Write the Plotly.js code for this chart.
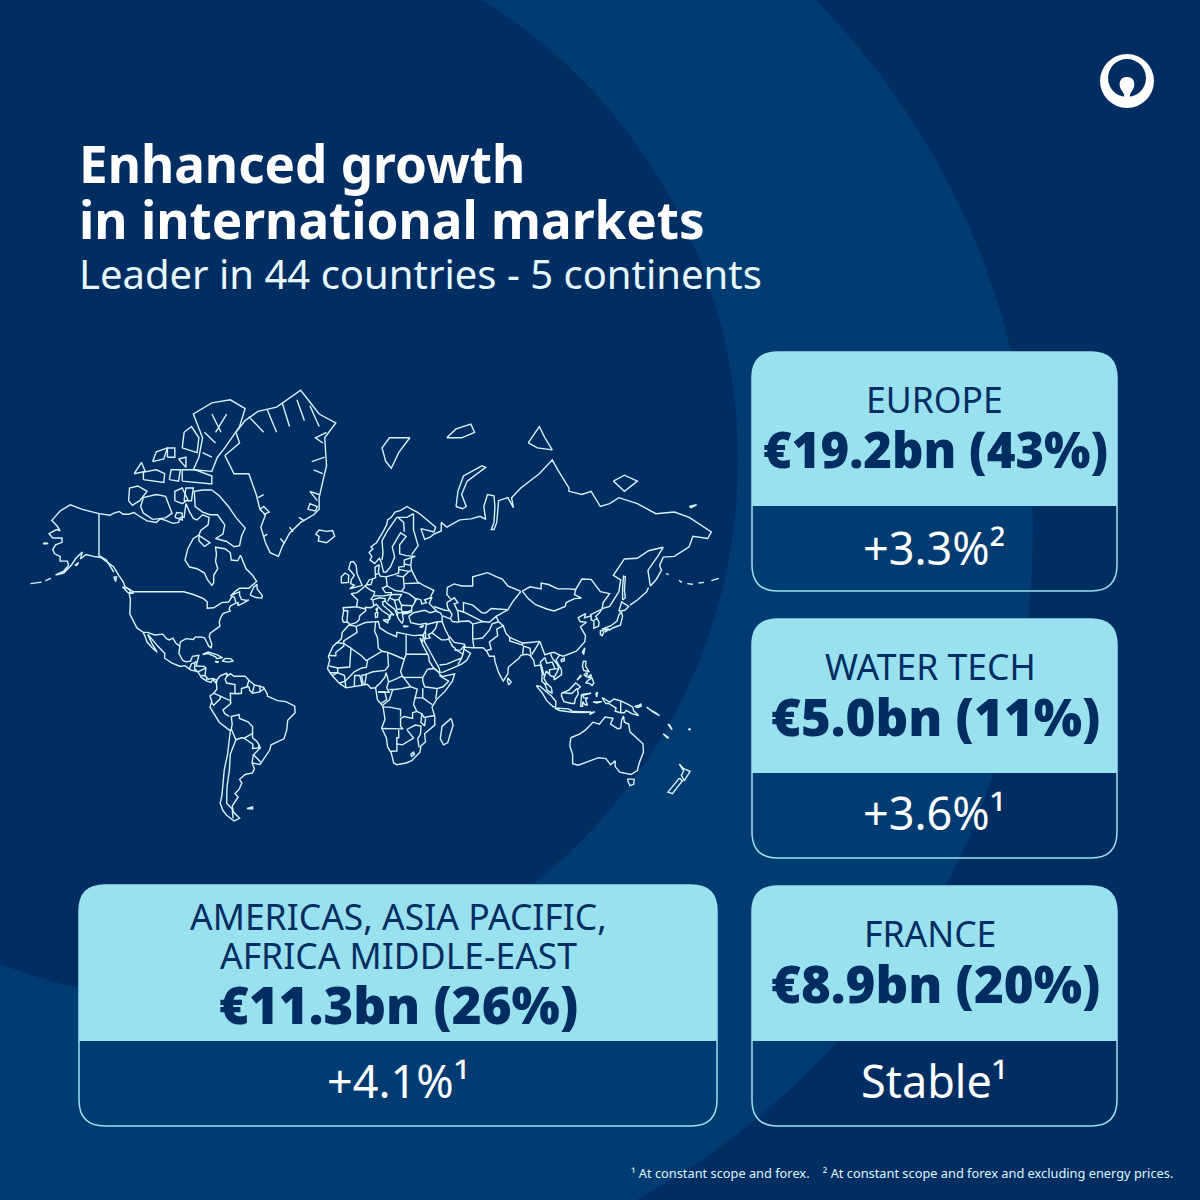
<!DOCTYPE html>
<html>
<head>
<meta charset="utf-8">
<script src="https://cdn.plot.ly/plotly-3.0.0.min.js"></script>
<style>html,body{margin:0;padding:0;background:#002d62}</style>
</head>
<body>
<div id="chart" style="width:1200px;height:1200px"></div>
<script>
var headline = ["Enhanced growth", "in international markets"];
var subhead = "Leader in 44 countries - 5 continents";
var regions = [["EUROPE"], ["WATER TECH"], ["FRANCE"], ["AMERICAS, ASIA PACIFIC,", "AFRICA MIDDLE-EAST"]];
var amounts = ["€19.2bn (43%)", "€5.0bn (11%)", "€8.9bn (20%)", "€11.3bn (26%)"];
var growth = ["+3.3%²", "+3.6%¹", "Stable¹", "+4.1%¹"];
var footnote = "¹ At constant scope and forex.\u00a0\u00a0\u00a0 ² At constant scope and forex and excluding energy prices.";

/* World outlines, longitude / latitude pairs */
var coastNorthAmerica = [[-164.5,54.6],[-160,55.8],[-157.5,57.5],[-158,58.7],[-162,58.7],[-162,60],[-165,60.7],[-166,61.8],[-164.5,63],[-161,63.6],[-161,64.6],[-166,64.6],[-168,65.6],[-164,66.5],[-162,66.2],[-163.5,67.2],[-166.5,68.4],[-162,70.2],[-156.5,71.3],[-150,70.5],[-141,69.7],[-135,69.4],[-133,69.8],[-130,70.1],[-128,69.6],[-125,69.6],[-122,69.9],[-120,69.4],[-115,68.3],[-110,68],[-108,68.7],[-105,68.4],[-101,67.8],[-98,68],[-97,69],[-95,69],[-94,71.5],[-92,70],[-90,68.8],[-88,68.5],[-85,69.5],[-81.5,69],[-82,67.5],[-86,66.3],[-87,65.3],[-90,64.5],[-93,62],[-94.5,59],[-92,57],[-88,56.5],[-84,55.2],[-82.3,53],[-80,51.2],[-79,52],[-79,54.5],[-76.8,56.5],[-78,58.7],[-77.5,60.5],[-78,62.4],[-73,62],[-70,61],[-69.5,59],[-66,58.8],[-64.5,60.3],[-61.5,56.5],[-58,54.5],[-55.8,52.5],[-58,51.3],[-60,50.2],[-65,50.2],[-67,49.3],[-70,47.5],[-65,49],[-65,47.8],[-64,46.2],[-61,45.8],[-60,46],[-63.5,44.6],[-66,43.8],[-65.8,45],[-67,44.8],[-70,43.7],[-70.7,42.3],[-70,41.7],[-74,40.6],[-75.5,38.5],[-76,37],[-75.6,35.3],[-77.8,34],[-81,32],[-81.4,30.5],[-80,26.8],[-80.4,25.2],[-81.7,26],[-82.8,28],[-84,30],[-86,30.4],[-89,30.3],[-90,29.2],[-94,29.6],[-97,28],[-97.3,25.5],[-97.8,22.5],[-95.8,19],[-94,18.2],[-91.5,18.5],[-90.5,21],[-87,21.5],[-87.7,18.5],[-88.5,16],[-84,15.8],[-83.2,15],[-83.7,11],[-82,9],[-79.5,9.5],[-77.3,8.6],[-77.9,7.2],[-79.5,8.9],[-80.4,7.3],[-83,8.2],[-85.7,10],[-87.5,13],[-91.5,14],[-94.5,16.2],[-97,15.8],[-101.5,17.5],[-105.5,20],[-105.5,22.5],[-109,25.8],[-112.7,29.5],[-114.7,31.7],[-112.5,27.5],[-110,24],[-109.5,23],[-112,25],[-115,28],[-116.5,31.5],[-117.2,32.6],[-120.5,34.5],[-122.5,37.5],[-124.3,40.4],[-124,46.3],[-124.7,48.4],[-122.5,48.5],[-123,49.3],[-127,50.8],[-128,52.5],[-130.3,54.5],[-133,57],[-136,58.2],[-140,59.7],[-144,60],[-148,60.5],[-151,59.3],[-150,61.2],[-153.5,59.5],[-156,57.5],[-160,55.2],[-164.5,54.6]];
var coastSouthAmerica = [[-77.3,8.6],[-75.5,10.8],[-72,12.2],[-71.5,10.8],[-70,12],[-68,10.6],[-62,10.7],[-60,8.5],[-57,6],[-52,4.7],[-50,1],[-50,0],[-44.5,-2.5],[-40,-3],[-35.2,-5.5],[-35,-9],[-39,-13],[-39.5,-18],[-41,-22.5],[-48,-25.5],[-48.7,-28],[-52,-32.5],[-54,-34.7],[-58.3,-34],[-57,-36.5],[-58,-38.3],[-62,-39],[-65,-41],[-63.8,-42.5],[-65.3,-45],[-67.5,-46.5],[-65.8,-47.8],[-69,-51],[-68.3,-53],[-65,-55],[-68,-55.8],[-72,-54],[-74,-52.5],[-75.5,-50],[-74.5,-47],[-74,-43],[-73.3,-37],[-71.5,-30],[-70,-18.5],[-76,-14],[-81,-6],[-80,-3],[-81,0],[-79,1.5],[-77.3,3.7],[-77.5,7],[-77.3,8.6]];
var coastEurasia = [[-9,37],[-9.5,38.7],[-8.8,41.5],[-9,43],[-1.8,43.4],[-1.2,46],[-4.7,48.3],[-1.5,48.7],[1.5,50.2],[3.5,51.4],[5,53],[8.5,53.7],[8.3,55.5],[8.2,57],[10.5,57.7],[10,55.5],[11,54.2],[14,54],[18.5,54.7],[21,55.2],[21,57],[24,57.2],[24,59],[28,59.6],[30,60],[25,60.2],[21.5,60.7],[21.5,63],[25,65],[22,65.8],[17.5,62.5],[18.8,59.8],[16.5,57],[14.3,55.5],[12.8,55.5],[11.5,58.5],[10.5,59.5],[8,58],[5.5,59],[6.5,60],[5,61],[7,62],[6,62.5],[9,63.5],[11,64.8],[12.5,66],[14.5,67.5],[15,68.5],[17,69],[19,70],[22,70.3],[25.5,71],[28,70.5],[31,70],[33,69.5],[41,67],[40,66],[35,66.5],[33,66.7],[35,64.3],[38,64.8],[40,65.5],[44,66.2],[44,68],[47,67],[54,68.5],[60,68.7],[65,69.2],[68,68.6],[67,71],[69,73],[72.5,72.8],[73,71],[72.5,68],[71,66.5],[72.5,66.5],[74,68],[75,72],[80,72.5],[83,70.8],[82,72.5],[87,74],[97,76],[104,77.7],[107,76.5],[113,74],[113,73.5],[120,73],[125,73.5],[130,71],[135,71.5],[140,72.5],[150,71.5],[160,69.7],[170,70],[178,69],[190,66],[188,64.5],[180,65],[178,62.5],[170,60],[164,59.8],[162,57.5],[163,56],[160,53],[157,51],[155.7,56],[161,60],[164,62.4],[156,61.5],[150,59.5],[143,59.3],[137,54.5],[141,53],[140,49],[135,43.5],[131,42.7],[129.5,41],[127.5,39.5],[129.3,37],[129,35.2],[126.5,34.4],[126.5,37.5],[125,38],[125,39.7],[121.5,38.9],[122,40.6],[118,39],[119,37.3],[122.5,37],[119.2,35],[122,31],[121.5,28],[117,23.5],[113.5,22.2],[110,21],[108,21.6],[106,19],[109,14],[109,11.5],[105,8.7],[105,10.2],[103,11],[100.8,13.4],[100,11],[99.5,9.5],[101,6.8],[103.5,4.5],[104,1.4],[101.3,3],[100,6.5],[98.3,8],[98.6,12],[97.6,16.5],[94.5,16],[94,19],[92,21.5],[90,22],[87,21.5],[86,20],[80.3,15.5],[80,12],[77.5,8],[75,12.5],[73,18.5],[72.7,21],[70,21],[68.5,23.7],[66.5,25.3],[61,25.2],[57,25.5],[56.5,27],[51,27.8],[48.7,30.3],[48,29.5],[50,26],[51.5,25],[51.5,24],[54.5,24.2],[56.4,26.2],[56.5,24.5],[59.8,22.5],[57.8,19],[55,17],[52,15.7],[45,12.8],[43.3,12.7],[42.8,15],[39,21.5],[37,25],[35,28],[34.8,29.5],[34.3,31.3],[35.5,33.5],[36,36.5],[32,36],[30,36.3],[27.5,36.8],[26.5,39.5],[29,41],[35,42],[38,41],[41.5,41.7],[37.5,44.7],[39,47],[35,46],[36,45],[33.5,44.5],[33,46],[30.8,46.5],[28,43],[28,41.5],[26,40.8],[23,40.5],[23.5,38],[22.8,36.5],[21,38.3],[19.5,41],[18.8,42.4],[15,44.5],[13.7,45.6],[12.3,45.3],[12.5,44],[16,41.8],[18.5,40],[16.8,40.3],[16,38],[15.8,40],[12.3,41.7],[10.5,43],[8.8,44.4],[6,43],[3,43.2],[3.2,41.8],[0,39.8],[-0.5,38],[-2,36.8],[-5.5,36],[-6.5,37],[-9,37]];
var coastAfrica = [[-5.5,35.8],[-2,35.2],[3,36.9],[10,37.3],[10.8,34.5],[15,32.3],[19.8,30.5],[20,32.5],[25,31.7],[29,31],[32,31.2],[34.3,31.3],[34,28],[32.5,29.9],[34,26.5],[36,23],[37.2,21],[37.5,18.5],[39.5,15.5],[43,12.3],[43.3,11.5],[44.7,10.5],[51.2,11.9],[50,8],[46,2.5],[41.5,-1.8],[39,-6],[40.5,-11],[40.5,-15.5],[35,-20],[35.5,-24],[33,-26],[32.5,-29],[28,-33],[25,-34],[20,-34.8],[18.3,-34],[17,-29.5],[15,-26.5],[14.3,-22],[11.8,-17],[13.6,-12.5],[12.5,-5.5],[9.5,-2],[9,3.5],[8.5,4.5],[6,4.2],[4,6.3],[1,5.8],[-4,5.2],[-7.5,4.4],[-11,6.8],[-13.3,9],[-15,11],[-17.5,14.7],[-16.3,19],[-17,21],[-14.5,26],[-10,29.5],[-9.5,32.5],[-6,35.7],[-5.5,35.8]];
var coastAustralia = [[114,-22],[113.5,-26],[115,-30],[115,-34.3],[118,-35],[124,-33],[129,-31.6],[133,-32],[135.5,-34.8],[138,-33],[138,-35.6],[140.5,-38],[144,-38.5],[146.5,-39],[150,-37.3],[151,-34],[153.3,-29],[153,-25],[149.5,-22],[146,-19],[145.3,-15],[143,-14],[142.5,-10.8],[141.5,-13],[141,-17],[139.5,-17.5],[135.5,-15],[136.8,-12],[132.5,-11.3],[129.5,-15],[126,-14],[122,-18],[119,-20],[114,-22]];
var coastGreenland = [[-73,78.2],[-68,76],[-60,76],[-56,73],[-54,70.5],[-51,69.5],[-53.5,67],[-51,63.5],[-48.5,61],[-44,60],[-42,62.5],[-38,65.7],[-32,68],[-25,69.5],[-22,70.5],[-22,72.5],[-20,75],[-18,77],[-19,80],[-13,81.3],[-22,82],[-32,83.6],[-45,82.5],[-55,82.2],[-62,81.5],[-67,80.5],[-65,79.5],[-73,78.2]];
var fjordsGreenland = [
 [[-60,81.8],[-52,80.5]],[[-50,82.3],[-45,80.5]],[[-42,82.8],[-38,81]],[[-34,83],[-30,81.5]],[[-27,82.6],[-22,81]],
 [[-18,80.5],[-24,80],[-20,79.5]],[[-19,78],[-26,77.5]],[[-20,76],[-25,76.5]],
 [[-22,73],[-27,73.5],[-23,72]],[[-24,70.2],[-28,70.5],[-27,71.5],[-23,71],[-24,70.2]],
 [[-30,68.3],[-33,69]],[[-36,66],[-38,67]],[[-41,63.5],[-43,64.5]],
 [[-52,65],[-50,65.5]],[[-52,69.5],[-49,70],[-52,71],[-54,70.5]],[[-55,72.5],[-52,73]]
];
var islandsArctic = [
 [[-80,73.7],[-76,72.8],[-71,71],[-67,69],[-62,66.8],[-64,65],[-65,62.8],[-68,62.5],[-72,63.8],[-78,64.5],[-74,65.5],[-73,67.5],[-77,69.5],[-81,69.5],[-85,70],[-89,71],[-89.5,73.5],[-85,73.7],[-80,73.7]],
 [[-117,69.8],[-112,68.6],[-105,68.9],[-101.5,69.8],[-105,72.7],[-110,73],[-117,72.5],[-118.5,71],[-117,69.8]],
 [[-125,72],[-123,71.2],[-119,72],[-115,73.5],[-120,74.3],[-124.5,74],[-125,72]],
 [[-90,76.5],[-80,76.3],[-77,78],[-73,79],[-65,81],[-62,82.4],[-70,83],[-80,82.8],[-90,82],[-85,80],[-87,78],[-90,76.5]],
 [[-80,82],[-75,80.5]],[[-72,82],[-78,80.5]],[[-84,80.5],[-78,79.5]],[[-85,78.5],[-80,78]],
 [[-96,79],[-88,78.5],[-87,80],[-91,81],[-95,80.5],[-96,79]],
 [[-96,75],[-80,74.6],[-80,75.7],[-89,76.5],[-96,76.5],[-96,75]],
 [[-100,72],[-96,71.5],[-93,72.2],[-96,74],[-100,73.5],[-100,72]],
 [[-95,72],[-91,72],[-90,74],[-94,74],[-95,72]],
 [[-117,75.2],[-106,74.8],[-105.5,76],[-110,76.5],[-117,76.2],[-117,75.2]],
 [[-103,75.2],[-98,75],[-97,76.5],[-102,76.5],[-103,75.2]],
 [[-122,76],[-116,76.3],[-118,77.4],[-122,76]],
 [[-112,77.5],[-106,77.8],[-104,79],[-110,78.6],[-112,77.5]],
 [[-104,78],[-100,78],[-100,79],[-104,79],[-104,78]],
 [[-98,77.8],[-94,78],[-94,76.8],[-98,77.8]],
 [[-100,69],[-96,68.5],[-96,69.8],[-99,69.9],[-100,69]],
 [[-87,65.2],[-81,63.5],[-84,62.6],[-87,64],[-87,65.2]],
 [[-59.3,47.8],[-56,46.9],[-53,46.7],[-52.7,47.6],[-55.5,50],[-55.6,51.6],[-57.5,50.5],[-59.3,47.8]],
 [[-128.3,50.7],[-125,50],[-123.4,48.4],[-125.5,48.8],[-128.3,50.7]],
 [[-133,54],[-131.5,54],[-132,52.5],[-133,54]],
 [[-24,65.5],[-22,66.4],[-18,66.1],[-14.7,66.3],[-13.6,65],[-18,63.5],[-22.5,63.9],[-22,65],[-24,65.5]],
 [[14,77.5],[12,79],[16,80],[27,80],[21,78.5],[17,76.7],[14,77.5]],
 [[47,80],[52,80.8],[60,81.2],[62,80.5],[55,80],[47,80]],
 [[52,71],[55.5,70.6],[57.5,71],[55,73],[58,75],[68,76.8],[66,77],[56,75.7],[53,73.5],[52,71]],
 [[91,79.5],[96,79],[104,78.8],[100,80],[97,81],[91,79.5]],
 [[137,75],[143,75.8],[150,75],[143,73.5],[137,75]],
 [[178,71],[182,71.3],[179,70.8],[178,71]],
 [[-153,57.5],[-152,58.3],[-154,57.5],[-153,57.5]],
 [[-170.5,63.5],[-168.5,63.3],[-171,63.2],[-170.5,63.5]]
];
var islandsAtlantic = [
 [[-85,21.9],[-82,23.1],[-77,21.7],[-74.2,20.2],[-77.5,19.9],[-78,20.7],[-82,22.3],[-85,21.9]],
 [[-74.4,18.5],[-72.8,19.9],[-69.9,19.8],[-68.4,18.6],[-71,18],[-74.4,18.5]],
 [[-78.3,18.3],[-76.3,18.2],[-77,17.8],[-78.3,18.3]],
 [[-61,-51.8],[-58,-51.3],[-58,-52],[-61,-51.8]],
 [[-5.5,50],[1.3,51.2],[0,53],[-1.5,55],[-2,57.5],[-3.5,58.6],[-5,58.5],[-6,56.5],[-3,54.5],[-4.5,53.2],[-5,51.8],[-3,51.3],[-5.5,50]],
 [[-10,52],[-6.2,52.2],[-6,54.5],[-8,55.2],[-10,54],[-10,52]],
 [[12.5,38],[15.5,38.2],[15,36.7],[12.5,38]],
 [[8.3,41],[9.7,41],[9.5,39.2],[8.5,39],[8.3,41]],
 [[8.6,42.5],[9.5,43],[9.3,41.4],[8.6,42.5]],
 [[23.5,35.5],[26.3,35.2],[24,34.9],[23.5,35.5]],
 [[32.3,35],[34.5,35.6],[33.5,34.7],[32.3,35]],
 [[47,45],[51,46.8],[53,45],[51,44.5],[53,41.5],[53.5,37],[50,37.3],[49,38.5],[49.8,40.3],[47.5,43],[47,45]],
 [[49.3,-12],[50.4,-15.5],[47.5,-24.5],[45.2,-25.5],[43.5,-22.5],[44.4,-16.2],[49.3,-12]]
];
var islandsPacific = [
 [[130.9,34],[135.7,35.5],[139,37.5],[140,40],[141.3,41.4],[142,39.5],[140.8,35.7],[137,34.6],[135,33.6],[132,33.9],[130.9,34]],
 [[140,41.6],[141.5,45.3],[145.3,43.5],[143.3,42],[140,41.6]],
 [[130,33.5],[132,33],[131,31],[130,31.5],[130,33.5]],
 [[132.5,34],[134.6,34],[133,32.8],[132.5,34]],
 [[142,46],[143.5,46.8],[143,49.5],[143.5,54],[142.5,54.2],[142,50],[142,46]],
 [[120.2,23],[121.6,25.2],[121,22],[120.2,23]],
 [[108.7,19.3],[110.5,20],[110.5,18.7],[109,18.3],[108.7,19.3]],
 [[80,9.7],[81.8,7.5],[80.5,6],[79.8,8],[80,9.7]],
 [[120.3,16],[120.8,18.5],[122.2,18.4],[122,16],[124,13],[121,13.7],[120.3,16]],
 [[122,7],[123.5,8.6],[125.5,9.7],[126.5,7],[125.5,5.7],[124,6.8],[122,7]],
 [[123,10],[125,11.5],[125,10],[123,10]],
 [[121,11.5],[123,12.5],[122.5,10.5],[121,11.5]],
 [[117.3,8.5],[119.5,11.3],[119.5,10.5],[117.3,8.5]],
 [[95.3,5.6],[97.5,5.2],[103.5,0],[106,-3],[105.8,-5.8],[104.5,-5.8],[101,-2.5],[98.5,1.8],[95.3,5.6]],
 [[105.3,-6.5],[108.5,-6.6],[112.7,-6.9],[114.5,-7.8],[114.4,-8.7],[108,-7.8],[105.3,-6.5]],
 [[109,1.5],[111.3,2.5],[113,3.2],[116.7,7],[119.2,5],[117.7,3.5],[118,1],[116.5,-1.5],[116,-4],[114.5,-4],[110.3,-3],[109,0],[109,1.5]],
 [[119.8,0.8],[125,1.5],[120.5,0.4],[121,-1],[123.3,-1],[122,-2],[123,-5],[121.5,-4.5],[120.5,-3],[120.4,-5.5],[119.4,-5.5],[119.5,-3],[119.8,0.8]],
 [[115,-8.3],[119,-8.3],[123,-8.3],[125,-8.6],[122,-8.9],[119,-9],[115,-8.8],[115,-8.3]],
 [[124,-10],[127,-8.5],[125,-9],[124,-10]],
 [[127.5,1.5],[128.5,2],[128,-0.5],[127.5,1.5]],
 [[126,-3.2],[130.8,-3],[128,-3.8],[126,-3.2]],
 [[131,-0.8],[135,-3.3],[137.5,-1.6],[141,-2.6],[145,-4.5],[147.5,-6],[148,-8],[150.7,-10.5],[147,-9.5],[144,-7.8],[143,-9],[141,-9],[138,-8.2],[138.5,-6.5],[134.5,-4],[133,-4],[132,-2.8],[131,-0.8]],
 [[148.5,-5.6],[151,-5],[152,-4.2],[152,-5.5],[150,-6.2],[148.5,-5.6]],
 [[155,-6],[157,-7.5],[160,-9],[162,-10.6],[159,-9],[155,-6]],
 [[166.5,-15],[167.5,-16.5],[168.8,-18],[167.5,-15.5],[166.5,-15]],
 [[177.5,-17.6],[178.5,-17.5],[178.5,-18.2],[177.5,-17.6]],
 [[164,-20],[167,-22],[166,-22],[164,-20]],
 [[144.7,-40.8],[148.3,-41],[148,-43],[146,-43.5],[145,-42],[144.7,-40.8]],
 [[172.7,-40.5],[174.3,-41.7],[171,-44.7],[169,-46.6],[166.5,-46],[170,-43],[172.7,-40.5]],
 [[172.7,-34.5],[175,-36.5],[178.5,-37.7],[175.3,-41.6],[173.8,-39.3],[175,-37.5],[172.7,-34.5]],
 [[146,44],[150,46],[155,49],[156,50.5]],
 [[-178,51.8],[-172,52.3]],[[-170,52.8],[-167,53.5]],
 [[165.5,55],[167,54.7]],[[172.5,52.9],[174,52.2]],[[177,51.8],[180,51.6]],[[183,52],[186,52.2]],[[190,52.8],[194,53.5]]
];
var bordersAmericas = [
 [[-123,49],[-95.2,49],[-90,48],[-84.5,46.5],[-82.5,45.3],[-82.5,42.8],[-79,43],[-76.5,44.2],[-74.7,45],[-71,45.2],[-69,47.3],[-67.8,47],[-67,45]],
 [[-141,69.7],[-141,60.2],[-137,59],[-133,55.5]],
 [[-117.1,32.5],[-114.7,32.5],[-111,31.3],[-106.5,31.7],[-104.5,29.6],[-103,29],[-101,29.8],[-99.5,27.5],[-97.2,25.9]],
 [[-92.2,14.5],[-91,17.2],[-89.2,17.8],[-88.3,18.5]],
 [[-89.2,17.8],[-89.2,15.9],[-89.3,14.4],[-87.8,13.4]],
 [[-87.5,13],[-85,14],[-83.2,15]],
 [[-85.7,11],[-83.7,10.9]],[[-83,8.3],[-82.6,9.5]],
 [[-77.9,7.2],[-77.3,8.6]],
 [[-71.3,11.8],[-72.8,9],[-72,7],[-67.5,6.2],[-67.5,2],[-66.9,1.2]],
 [[-60,8.5],[-61,5],[-60,5.2]],
 [[-60.8,5],[-64,4],[-64,1.5],[-66.9,1.2]],
 [[-57,6],[-58,2]],
 [[-60,5.2],[-59.5,3],[-58,1.5],[-54,2.2],[-51.7,4.1]],
 [[-54,5.8],[-54,2.2]],
 [[-66.9,1.2],[-70,1.5],[-69.8,-4.2]],
 [[-78.8,1.4],[-75.3,0],[-70,-2.5],[-69.9,-4.2]],
 [[-80.3,-3.4],[-79,-5],[-75.5,-1.5],[-75.3,-0.1]],
 [[-69.9,-4.2],[-74,-7.5],[-73,-9.5],[-70.5,-11]],
 [[-70.4,-18.3],[-69.5,-17.5],[-69,-15],[-69.5,-11],[-65.3,-10],[-65,-12],[-60.5,-13.8],[-58,-16.3],[-58,-19.8]],
 [[-69.5,-17.5],[-68,-21],[-67,-23],[-64,-22],[-62.6,-22.2],[-58,-19.8],[-58,-22],[-55.5,-24],[-54.5,-25.5]],
 [[-62.6,-22.2],[-57.8,-25.2],[-58,-27.3],[-54.8,-27],[-54.5,-25.5],[-53.8,-27],[-57.5,-30.2],[-53.5,-33.7]],
 [[-57.5,-30.2],[-58.3,-34]],
 [[-67,-23],[-70,-30],[-70.5,-37],[-71.8,-44],[-72,-50],[-69,-52],[-68.5,-55]]
];
var bordersAfrica = [
 [[-2,35],[-1.5,32.5],[-8.7,28.5],[-8.7,27.3]],
 [[-17,21.4],[-13,21.3],[-13,23],[-8.7,26],[-8.7,27.3],[-13,27.7]],
 [[-8.7,27.3],[-4.8,25],[-5.5,15.5],[-12,15],[-16.5,16]],
 [[-4.8,25],[1.2,21],[3.2,19],[4.2,19.2],[12,23.5],[15,23],[24,19.5],[25,22],[36.9,22]],
 [[8.5,37],[8,33],[9.5,30.2],[10,25],[12,23.5]],
 [[25,31.5],[25,22]],
 [[24,19.5],[22,13],[23,10.8],[27.4,5],[31,3.7],[29.6,-1.3],[29,-4.5],[30.8,-8.3],[33.5,-9.5],[34.7,-11.5],[40.5,-10.5]],
 [[15,23],[15.5,16],[13.6,13.7],[7,13],[3.6,11.7],[2.7,6.4]],
 [[4.2,19.2],[3.5,15.3],[1,15],[-3,13],[-5.5,10.5],[-8,8],[-7.5,4.4]],
 [[8.6,4.8],[11,7],[13.5,10],[14.2,12.5],[15,10],[15.5,7.5],[19,9],[23,10.8]],
 [[15.5,7.5],[14.5,4.5],[16,2],[9.8,2.2]],
 [[16,3.5],[18.6,3.5],[22.5,4],[27.4,5]],
 [[36.5,14.3],[34,10],[34,8],[35,5],[41.8,4],[41,-1.5]],
 [[36.5,14.3],[40,14.7],[43,12.5]],
 [[43,11],[48,8],[45,5],[41.8,4]],
 [[23,10],[34,10]],
 [[34,4.2],[34,-1],[39.2,-4.7]],
 [[29.6,-1.3],[30.5,-1],[34,-1]],
 [[33.5,-9.5],[33,-14],[35,-16],[35.5,-12]],
 [[30.8,-8.3],[28.5,-9],[28.5,-12],[24,-11],[22,-12],[22,-16.2],[23.4,-17.5],[11.8,-17.3]],
 [[12.3,-6],[16,-6],[22,-7.2],[22,-11]],
 [[21,-18],[21,-22],[20,-22],[20,-28.5],[16.5,-28.6]],
 [[20,-25],[23,-25.5],[29,-22.2],[25.5,-18]],
 [[25.3,-17.8],[30,-15.5],[33,-16],[32.8,-20],[31.3,-22.4],[32,-26.8]],
 [[27.5,-30],[29,-29],[29.5,-30],[28,-31],[27.5,-30]],
 [[9.8,2.2],[13.5,2.2],[14.5,-2],[11.5,-4]],
 [[12.3,-5],[16,-2],[17.8,3.5]],
 [[-3,5],[-2.8,11],[0,11],[1.2,6]],
 [[1.8,6.3],[1,11],[3.6,11.7]],
 [[-11.3,6.9],[-8,8],[-8.3,11],[-12,12.5],[-15,11]],
 [[-16.5,12.5],[-12,12.5],[-12,15]]
];
var bordersEurope = [
 [[-1.8,43.4],[3,42.5]],
 [[-8.8,41.9],[-6.5,41.7],[-7,37.2]],
 [[2.5,51],[6,49.5],[8,49],[7.5,47.6]],
 [[7.5,43.8],[7,46],[6,46.3],[7.5,47.6],[9.6,47.5],[13,47.5],[17,48]],
 [[7,46],[10.5,46.8],[13.7,46.5],[13.7,45.6]],
 [[3.4,51.4],[6,51.5],[7,53.3]],
 [[8.5,54.9],[10,54.8]],
 [[14.2,54],[14.8,51],[12.2,50.3],[13.8,48.7],[17,48.7],[17,48]],
 [[14.8,51],[18.8,49.5],[22.5,49.1]],
 [[19.8,54.4],[23.5,54],[23.8,52],[24,50.5],[22.5,49.1]],
 [[21,56.3],[26.5,55.7],[23.5,54]],
 [[24,57.9],[27.5,57.5]],
 [[28,59.5],[27.5,57.5],[28,56],[26.5,55.7]],
 [[28,56],[31,53],[31.5,52],[24,51.8]],
 [[31.5,52.3],[35,51],[40,49.5],[38.2,47.2]],
 [[22.5,49.1],[26.5,48.3],[30,46.5],[29.7,45.3]],
 [[17,48],[22.5,48],[21,46.2],[18.8,45.9],[16,46.8],[17,48]],
 [[22.5,44],[28.5,43.8]],
 [[21,46.2],[22.5,44],[22.5,42.3],[20,42.5],[19.2,44.5],[18.8,45.9]],
 [[22.5,42.3],[22.8,41.3],[26.3,41.5],[28,42]],
 [[19.3,42.2],[20.8,41],[20,39.6]],
 [[21,41],[26.3,41]],
 [[15,45.5],[16,46.8]],
 [[12,59],[12.5,61],[12,64],[15,66.3],[20,69],[25.5,69],[29,69.7]],
 [[24,66],[23.7,68],[20.5,69]],
 [[29,69.7],[29,66.5],[31.5,62.8],[28,60.5]]
];
var bordersAsia = [
 [[49,46.4],[47,48],[47.3,50.5],[51,51.7],[55,51],[61,51],[61,54],[69,55.3],[74,54],[77,53.3],[80,51],[87,49.1]],
 [[87.8,49.2],[92,50.7],[98,50],[98,52],[102,51.5],[107,50],[113,50],[116.7,49.8]],
 [[87.8,49.2],[91,46.5],[95,44.2],[101,42.5],[105,41.7],[111,43.5],[111.5,45],[116,46.5],[119.8,46.7],[116,48],[116.7,49.8]],
 [[116.7,49.8],[120,53.3],[125,53.2],[130,49],[135,48.3],[131.5,45],[131,42.7]],
 [[124.3,40],[128,41.5],[130.6,42.4]],
 [[126.7,37.9],[128.3,38.5]],
 [[87,49.1],[82.5,45.2],[80,42.2],[73.7,39.5],[75,37.2]],
 [[53,42],[56,41.3],[56,45],[61,44],[66,41],[68,40.9],[71,42.7],[80,42.2]],
 [[53.8,37.3],[59,37.5],[61,36.2],[66.5,37.3],[70,37],[73.7,39.5]],
 [[56,41.3],[62,39],[66.5,37.3]],
 [[61,36.2],[60.8,30],[61,29.5],[63,29.5],[66.3,29.9],[70,33.5],[71.5,36.3],[75,37.2]],
 [[61,29.5],[61.7,25.1]],
 [[48.5,30],[46,34],[44.5,37.3],[44.5,39.7]],
 [[48.9,38.4],[44.8,39.7]],
 [[40,43.5],[46,42],[48.5,41.8]],
 [[41.5,41.5],[43.5,41],[44.5,39.7]],
 [[36,36],[42,37.2],[44.5,37.3]],
 [[42,37.2],[41,34.4],[39,32.3],[44,29],[46.5,29],[48,29.5]],
 [[39,32.3],[37,31.5],[38,30],[35,29.4]],
 [[35.5,33],[35.5,29.6]],
 [[43,16.5],[47,17],[52,19],[55,20],[53,16.7]],
 [[55,20],[55.7,22],[51.5,24.5]],
 [[56.4,25],[55.7,22]],
 [[68,23.7],[71,24.5],[70,28],[74.5,31],[74,34],[77.5,35.5],[75,37.2]],
 [[77.5,35.5],[79,32],[81,30.2],[88,27.5],[92,27.8],[97.3,28.3]],
 [[81,30.2],[81,28.5],[88,26.5],[88,27.5]],
 [[88.5,26],[88,22]],[[88.5,26],[92,25],[92.5,21]],
 [[97.3,28.3],[94.5,24.5],[93,22]],
 [[97.3,28.3],[98.7,25],[100,21.7],[102,22.4],[105,23],[108,21.6]],
 [[100,20.4],[97.5,18],[98.5,15],[99.6,11]],
 [[100,20.4],[101,17.5],[104,18],[105.5,14.5],[107.5,14.5]],
 [[102.5,12],[102.5,14],[105.5,14.5]],
 [[103,22.4],[104,20],[107,16.5],[107.5,14.5],[105.5,10.8],[104.5,10.4]],
 [[100,6.5],[102,6.3]],
 [[141,-2.6],[141,-9]],
 [[109.5,1.8],[114.5,1.4],[117.5,4.2]]
];

var DARK = "#002d62", BAND = "#003b71", PALE = "#9ae1f0", MAPLINE = "#d6f5fb";
var boxes = [[752,352,1117,506,591],[752,619,1117,773,858],[752,886,1117,1041,1126],[79,885,717,1041,1126]];
var labelX = [934,930,930,398];
var amountX = [935,935,935,398];
var growthX = [934,934,934,398];
var labelY = [[399],[666],[933],[916,955]];
var amountY = [449,716,983,1004];
var growthY = [547,812.5,1080,1080];
var amountSize = [49,51,51,51];

function mercator(lat){ return Math.log(Math.tan(Math.PI/4 + lat*Math.PI/360))*180/Math.PI; }
var allLines = [coastNorthAmerica,coastSouthAmerica,coastEurasia,coastAfrica,coastAustralia,coastGreenland]
  .concat(fjordsGreenland,islandsArctic,islandsAtlantic,islandsPacific,bordersAmericas,bordersAfrica,bordersEurope,bordersAsia);
var mapX = [], mapY = [];
allLines.forEach(function(line){
  line.forEach(function(p){ mapX.push(p[0]); mapY.push(mercator(p[1])); });
  mapX.push(null); mapY.push(null);
});

function round(x0,y0,x1,y1,r,top,bot){
  var a = top ? r : 0, b = bot ? r : 0;
  return "M"+(x0+a)+","+y0+" L"+(x1-a)+","+y0+" Q"+x1+","+y0+" "+x1+","+(y0+a)+
         " L"+x1+","+(y1-b)+" Q"+x1+","+y1+" "+(x1-b)+","+y1+" L"+(x0+b)+","+y1+
         " Q"+x0+","+y1+" "+x0+","+(y1-b)+" L"+x0+","+(y0+a)+" Q"+x0+","+y0+" "+(x0+a)+","+y0+" Z";
}
function circle(cx,cy,r,fill){
  return {type:"circle",xref:"x",yref:"y",x0:cx-r,x1:cx+r,y0:cy-r,y1:cy+r,fillcolor:fill,line:{width:0},layer:"below"};
}
var shapes = [circle(272,532,761,BAND), circle(197,460,541,DARK)];
boxes.forEach(function(b){
  shapes.push({type:"path",path:round(b[0],b[1],b[2],b[4],26,true,true),fillcolor:"rgba(0,0,0,0)",line:{color:PALE,width:1.5},layer:"below",xref:"x",yref:"y"});
  shapes.push({type:"path",path:round(b[0],b[1],b[2],b[3],26,true,false),fillcolor:PALE,line:{width:0},layer:"below",xref:"x",yref:"y"});
});
shapes.push(circle(1127,81,27,"#ffffff"));
shapes.push(circle(1127,78,19,DARK));
shapes.push({type:"path",xref:"x",yref:"y",layer:"below",fillcolor:"#ffffff",line:{width:0},
  path:"M1127,77 C1120,77 1119,83 1120,87 C1121,91 1125,93 1124,97 L1130,97 C1129,93 1133,91 1134,87 C1135,83 1134,77 1127,77 Z"});

var F = "'Noto Sans', sans-serif";
function note(x,y,text,size,color,weight,anchor){
  return {xref:"x",yref:"y",x:x,y:y,text:text,showarrow:false,xanchor:anchor||"center",yanchor:"middle",
          align:anchor||"center",font:{family:F,size:size,color:color,weight:weight||400}};
}
var annotations = [
  note(77,163,headline[0],51.2,"#ffffff",700,"left"),
  note(77,219,headline[1],51.2,"#ffffff",700,"left"),
  note(77,273,subhead,40,"#e6f8fc",400,"left"),
  note(1175,1173,footnote,12.8,"#dff6fb",400,"right")
];
regions.forEach(function(lines,i){
  lines.forEach(function(t,j){ annotations.push(note(labelX[i],labelY[i][j],t,35.5,DARK)); });
  annotations.push(note(amountX[i],amountY[i],amounts[i],amountSize[i],DARK,900));
  annotations.push(note(growthX[i],growthY[i],growth[i],45,"#ffffff"));
});

var data = [{type:"scatter",xaxis:"x2",yaxis:"y2",x:mapX,y:mapY,mode:"lines",connectgaps:false,
  line:{color:MAPLINE,width:1.4},showlegend:false,hoverinfo:"skip"}];
var layout = {
  width:1200,height:1200,margin:{l:0,r:0,t:0,b:0,pad:0},paper_bgcolor:DARK,plot_bgcolor:"rgba(0,0,0,0)",
  showlegend:false,
  xaxis:{range:[0,1200],visible:false,fixedrange:true},
  yaxis:{range:[1200,0],visible:false,fixedrange:true},
  xaxis2:{range:[-194.5,454.1],overlaying:"x",visible:false,fixedrange:true},
  yaxis2:{range:[-272.4,376.2],overlaying:"y",visible:false,fixedrange:true},
  shapes:shapes,annotations:annotations
};
Plotly.newPlot("chart",data,layout,{staticPlot:true,displayModeBar:false});
</script>
</body>
</html>
